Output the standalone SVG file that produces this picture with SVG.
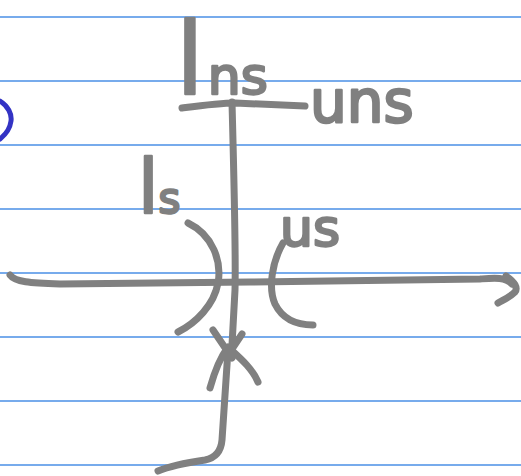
<svg xmlns="http://www.w3.org/2000/svg" width="521" height="476" viewBox="0 0 521 476">
<style>
.rule{stroke:#4a8fe6;stroke-width:1.4}
.ink{fill:none;stroke:#808080;stroke-width:7;stroke-linecap:round;stroke-linejoin:round}
.hand{fill:#808080;stroke:#808080;stroke-width:2.5;stroke-linejoin:round;font-family:"DejaVu Sans",sans-serif}
</style>
<rect width="521" height="476" fill="#ffffff"/>
<g id="paper">
<line class="rule" x1="0" y1="17" x2="521" y2="17"/>
<line class="rule" x1="0" y1="81" x2="521" y2="81"/>
<line class="rule" x1="0" y1="145" x2="521" y2="145"/>
<line class="rule" x1="0" y1="209" x2="521" y2="209"/>
<line class="rule" x1="0" y1="273" x2="521" y2="273"/>
<line class="rule" x1="0" y1="337" x2="521" y2="337"/>
<line class="rule" x1="0" y1="401" x2="521" y2="401"/>
<line class="rule" x1="0" y1="465" x2="521" y2="465"/>
<path d="M0,101 C8,106 12,114 11,121 C10,129 5,135 0,139" fill="none" stroke="#3333c4" stroke-width="5" stroke-linecap="round"/>
</g>
<g id="connectors">
<path class="ink" d="M182,108 C205,105 220,103 235,103 C260,104 285,105 305,106"/>
<path class="ink" d="M232,102 C234,180 236,250 235,290 L232,345"/>
<path class="ink" d="M228,350 L222,440 C221,452 215,458 205,460 C185,463 170,466 158,471"/>
<path class="ink" d="M210,388 C215,370 222,355 228,347 C240,358 252,368 258,382"/>
<path class="ink" d="M213,330 L232,358 M242,334 L226,358"/>
<path class="ink" d="M10,275 C15,282 30,283 60,284 L250,282 L480,279 C495,278 505,277 512,284"/>
<path class="ink" d="M506,276 C515,282 518,288 515,292 C510,297 503,300 498,303"/>
</g>
<g id="ls-curve"><path class="ink" d="M188,223 C213,235 222,262 218,283 C214,305 196,323 178,332"/></g>
<g id="us-curve"><path class="ink" d="M283,243 C272,262 268,288 275,304 C282,318 295,325 313,325"/></g>
<g id="lns"><text class="hand" x="176" y="94"><tspan font-size="100">l</tspan><tspan font-size="52" dx="4">ns</tspan></text></g>
<g id="uns"><text class="hand" x="310" y="122" font-size="58">uns</text></g>
<g id="ls"><text class="hand" x="138" y="213"><tspan font-size="74">l</tspan><tspan font-size="42">s</tspan></text></g>
<g id="us"><text class="hand" x="280" y="246" font-size="52">us</text></g>
</svg>
